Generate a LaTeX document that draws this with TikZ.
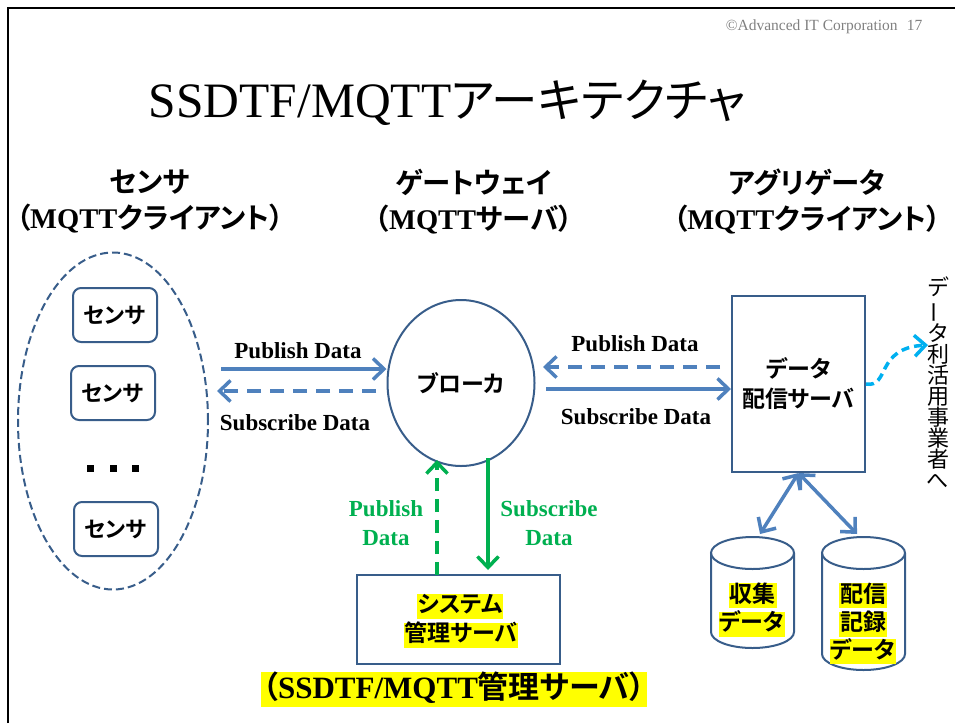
\documentclass[tikz,border=0pt]{standalone}
\usepackage{fontspec}
\setmainfont{Liberation Serif}
\newfontfamily\jp{Noto Sans CJK JP}[RawFeature=+palt, BoldFont={Noto Sans CJK JP Bold}]
\usetikzlibrary{arrows.meta,shapes.geometric}

\definecolor{outline}{RGB}{56,93,138}
\definecolor{flow}{RGB}{79,129,189}
\definecolor{mgmt}{RGB}{0,176,80}
\definecolor{link}{RGB}{0,176,240}
\definecolor{note}{RGB}{128,128,128}
\definecolor{marker}{RGB}{255,255,0}

% bold gothic and plain gothic runs inside Latin text
\newcommand{\JB}[1]{{\jp\bfseries #1}}
\newcommand{\JR}[1]{{\jp\mdseries #1}}

\tikzset{
  hdr/.style={align=center, inner sep=0pt, font=\fontsize{28.5}{36}\selectfont\bfseries},
  lbl/.style={font=\fontsize{23}{29}\selectfont\bfseries, inner sep=0pt},
  jptext/.style={font=\fontsize{23}{30}\selectfont\jp\bfseries, align=center},
  hilite/.style={jptext, fill=marker, inner xsep=1pt, inner ysep=0pt,
    text height=19pt, text depth=6pt},
  frameline/.style={draw=outline, line width=2pt},
  sensorbox/.style={frameline, rounded corners=8pt, minimum width=84pt,
    minimum height=54pt, jptext, font=\fontsize{22}{26}\selectfont\jp\bfseries},
  sqdot/.style={fill=black, rectangle, minimum size=7pt, inner sep=0pt},
  barb/.tip={Straight Barb[length=11pt,width=21pt,line width=3.5pt]},
  tip/.style={-barb},
  both tips/.style={barb-barb},
  flowarrow/.style={draw=flow, line width=3.5pt, tip},
  mgmtarrow/.style={draw=mgmt, line width=3.5pt, tip},
  dashline/.style={dash pattern=on 14pt off 9pt},
}

\begin{document}
\begin{tikzpicture}[x=1pt,y=-1pt]
\useasboundingbox (0,0) rectangle (955,723);

% slide frame
\draw[line width=2.5pt, line join=miter] (8,723) -- (8,8) -- (955,8);

% footer note and title
\node[anchor=east, text=note, font=\fontsize{15.5}{18}\selectfont] (credit) at (926,27)
  {©Advanced IT Corporation\hspace{0.6em}17};
\node (title) at (447,103)
  {\fontsize{49.5}{52}\selectfont SSDTF/MQTT{\fontsize{46.5}{52}\selectfont\JR{アーキテクチャ}}};

% column headings
\node[hdr] (hsensor) at (150,201) {\JB{センサ}\\\JB{（}MQTT\JB{クライアント）}};
\node[hdr] (hgate) at (474,202) {\JB{ゲートウェイ}\\\JB{（}MQTT\JB{サーバ）}};
\node[hdr] (hagg) at (807,201) {\JB{アグリゲータ}\\\JB{（}MQTT\JB{クライアント）}};

% sensor group
\node[draw=outline, line width=2pt, dash pattern=on 8pt off 4pt, ellipse,
      minimum width=190pt, minimum height=337pt, inner sep=0pt] (sensors) at (113,421) {};
\node[sensorbox] (s1) at (115,315) {センサ};
\node[sensorbox] (s2) at (113,393) {センサ};
\node[sqdot] (d1) at (90,468) {};
\node[sqdot] (d2) at (113,468) {};
\node[sqdot] (d3) at (135,468) {};
\node[sensorbox] (s3) at (116,529) {センサ};

% broker
\node[frameline, ellipse, minimum width=147pt, minimum height=166pt, inner sep=0pt,
      jptext] (broker) at (461,383) {ブローカ};

% distribution server
\node[frameline, minimum width=133pt, minimum height=176pt, jptext] (dist) at (798.5,384)
  {データ\\配信サーバ};

% system management server
\node[frameline, minimum width=203pt, minimum height=89pt] (sys) at (458.5,619.5) {};
\node[hilite] (sysA) at (460,606) {システム};
\node[hilite] (sysB) at (461,635) {管理サーバ};
\node[hilite, font=\fontsize{31}{34}\selectfont\bfseries, text height=26pt, text depth=9pt,
      inner xsep=2pt] (sysname) at (454,689.5) {\JB{（}SSDTF/MQTT\JB{管理サーバ）}};

% storage cylinders
\draw[frameline] (711,553) -- (711,632) arc[start angle=180, end angle=0, x radius=41.5, y radius=16] -- (794,553);
\draw[frameline] (752.5,553) ellipse[x radius=41.5, y radius=16];
\draw[frameline] (822,553) -- (822,654) arc[start angle=180, end angle=0, x radius=41.5, y radius=16] -- (905,553);
\draw[frameline] (863.5,553) ellipse[x radius=41.5, y radius=16];
\node[hilite] (c1a) at (752.5,595.5) {収集};
\node[hilite] (c1b) at (752,624) {データ};
\node[hilite] (c2a) at (863,595.5) {配信};
\node[hilite] (c2b) at (863,624) {記録};
\node[hilite] (c2c) at (863,651.5) {データ};
\coordinate (c1top) at (760,534);
\coordinate (c2top) at (857,534);

% data users (vertical text)
\node[align=center, font=\fontsize{22}{21}\selectfont\jp, inner sep=0pt] (users) at (938,383)
  {デ\\\rotatebox[origin=c]{90}{ー}\\タ\\利\\活\\用\\事\\業\\者\\へ};
\coordinate (usersin) at (928,345);

% sensor <-> broker
\coordinate (lpA) at (221,369);
\coordinate (lsA) at (376,391);
\coordinate (lsB) at (217,391);
\draw[flowarrow] (lpA) -- (lpA -| broker.west);
\draw[flowarrow, dashline] (lsA) -- (lsB);
\node[lbl] (lpub) at (298,351) {Publish Data};
\node[lbl] (lsub) at (295,423) {Subscribe Data};

% aggregator <-> broker
\coordinate (rpA) at (720,367);
\coordinate (rpB) at (543,367);
\coordinate (rsA) at (546,389);
\draw[flowarrow, dashline] (rpA) -- (rpB);
\draw[flowarrow] (rsA) -- (rsA -| dist.west);
\node[lbl] (rpub) at (635,344) {Publish Data};
\node[lbl] (rsub) at (636,417) {Subscribe Data};

% server <-> storage
\draw[draw=flow, line width=3.5pt, both tips] (c1top) -- (dist.south);
\draw[draw=flow, line width=3.5pt, both tips] (dist.south) -- (c2top);

% server -> data users
\draw[draw=link, line width=3.5pt, dash pattern=on 8pt off 5pt, tip]
  (dist.east) .. controls (890,388) and (875,348) .. (usersin);

% management server <-> broker
\coordinate (gpA) at (437,575);
\coordinate (gpB) at (437,460);
\coordinate (gsA) at (488,458);
\coordinate (gsB) at (488,570);
\draw[mgmtarrow, dash pattern=on 13pt off 8pt] (gpA) -- (gpB);
\draw[mgmtarrow] (gsA) -- (gsB);
\node[lbl, text=mgmt, align=center] (gpub) at (386,523) {Publish\\Data};
\node[lbl, text=mgmt, align=center] (gsub) at (549,523) {Subscribe\\Data};
\end{tikzpicture}
\end{document}
